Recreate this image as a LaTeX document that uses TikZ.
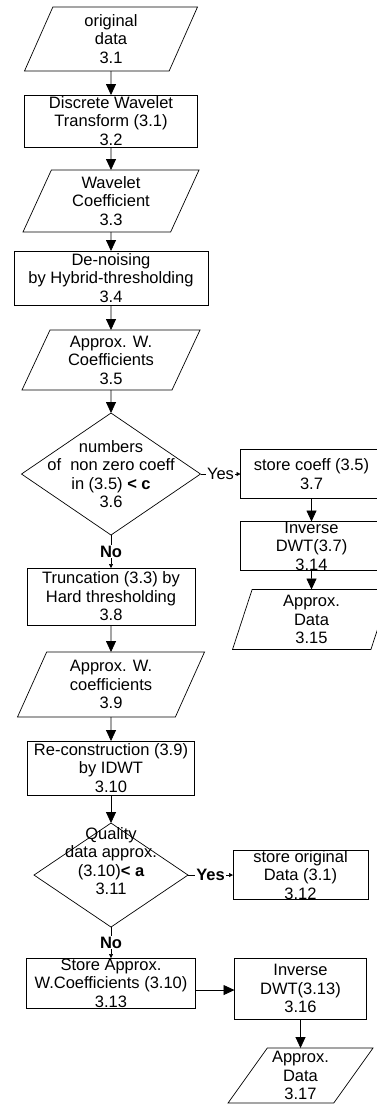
\documentclass[tikz,border=0pt]{standalone}
\usepackage{fontspec}
\setmainfont{Liberation Sans}
\usetikzlibrary{arrows.meta,positioning,shapes.geometric}

\begin{document}
\begin{tikzpicture}[
    font=\fontsize{16.5}{18.5}\selectfont,
    node distance=24pt and 40pt,
    every node/.style={outer sep=0pt},
    box/.style={draw, line width=0.7pt, inner sep=0pt, align=center},
    data/.style={draw, line width=0.7pt, trapezium, trapezium left angle=60, trapezium right angle=120, trapezium stretches body, inner sep=0pt, align=center},
    decision/.style={draw, line width=0.7pt, diamond, inner sep=0pt},
    arrow/.style={-{Triangle[length=11pt,width=10pt]}, line width=0.8pt},
    small/.style={-{Triangle[length=4pt,width=4pt]}, line width=0.6pt},
    answer/.style={fill=white, inner sep=1pt, font=\fontsize{16.5}{18.5}\selectfont\bfseries}
]
\useasboundingbox (0,0) rectangle (377pt,-1104pt);

\node[data, minimum width=173pt, minimum height=64pt] (n31) at (111pt,-39pt) {original\\data\\3.1};
\node[box, below=of n31, minimum width=173pt, minimum height=52pt] (n32) {Discrete Wavelet\\Transform (3.1)\\3.2};
\node[data, below=23pt of n32, minimum width=176pt, minimum height=62pt] (n33) {Wavelet\\Coefficient\\3.3};
\node[box, below=19pt of n33, minimum width=194pt, minimum height=54pt] (n34) {De-noising\\by Hybrid-thresholding\\3.4};
\node[data, below=25pt of n34, minimum width=178pt, minimum height=60pt] (n35) {Approx. W.\\Coefficients\\3.5};
\node[decision, below=23pt of n35, minimum width=179pt, minimum height=122pt] (n36) {};
\node[align=center] (t36) at (n36) {numbers\\of \ non zero coeff\\in (3.5) {\bfseries< c}\\3.6};
\node[box, right=of n36, minimum width=142pt, minimum height=49pt] (n37) {store coeff (3.5)\\3.7};
\node[box, below=23pt of n37, minimum width=142pt, minimum height=49pt] (n314) {Inverse\\DWT(3.7)\\3.14};
\node[data, trapezium left angle=68, trapezium right angle=112, below=19pt of n314, minimum width=158pt, minimum height=60pt] (n315) {Approx.\\Data\\3.15};
\node[box, below=33pt of n36, minimum width=168pt, minimum height=57pt] (n38) {Truncation (3.3) by\\Hard thresholding\\3.8};
\node[data, trapezium left angle=59, trapezium right angle=121, below=27pt of n38, minimum width=187pt, minimum height=65pt] (n39) {Approx. W.\\coefficients\\3.9};
\node[box, below=of n39, minimum width=167pt, minimum height=54pt] (n310) {Re-construction (3.9)\\by IDWT\\3.10};
\node[decision, below=28pt of n310, minimum width=154pt, minimum height=104pt] (n311) {};
\node[align=center, yshift=14pt] (t311) at (n311) {Quality\\data approx.\\(3.10){\bfseries< a}\\3.11};
\node[box, right=45pt of n311, minimum width=135pt, minimum height=46pt] (n312) {store original\\Data (3.1)\\3.12};
\node[box, below=31pt of n311, minimum width=169pt, minimum height=50pt] (n313) {Store Approx.\\W.Coefficients (3.10)\\3.13};
\node[box, below right=0pt and 39pt of n313.north east, minimum width=132pt, minimum height=61pt] (n316) {Inverse\\DWT(3.13)\\3.16};
\node[data, trapezium left angle=51, trapezium right angle=129, below=29pt of n316, minimum width=145pt, minimum height=55pt] (n317) {Approx.\\Data\\3.17};

\draw[arrow] (n31) -- (n32);
\draw[arrow] (n32) -- (n33);
\draw[arrow] (n33) -- (n34);
\draw[arrow] (n34) -- (n35);
\draw[arrow] (n35) -- (n36);
\draw[small] (n36.east) -- node[answer, font=\fontsize{16.5}{18.5}\selectfont] {Yes} (n37.west);
\draw[arrow] (n37) -- (n314);
\draw[arrow] (n314) -- (n315);
\draw[small] (n36.south) -- node[answer] {No} (n38.north);
\draw[arrow] (n38) -- (n39);
\draw[arrow] (n39) -- (n310);
\draw[arrow] (n310) -- (n311);
\draw[small] (n311.east) -- node[answer] {Yes} (n312.west);
\draw[small] (n311.south) -- node[answer] {No} (n313.north);
\draw[arrow] ([yshift=-7pt]n313.east) -- ([yshift=-7pt]n313.east -| n316.west);
\draw[arrow] (n316) -- (n317);
\end{tikzpicture}
\end{document}
